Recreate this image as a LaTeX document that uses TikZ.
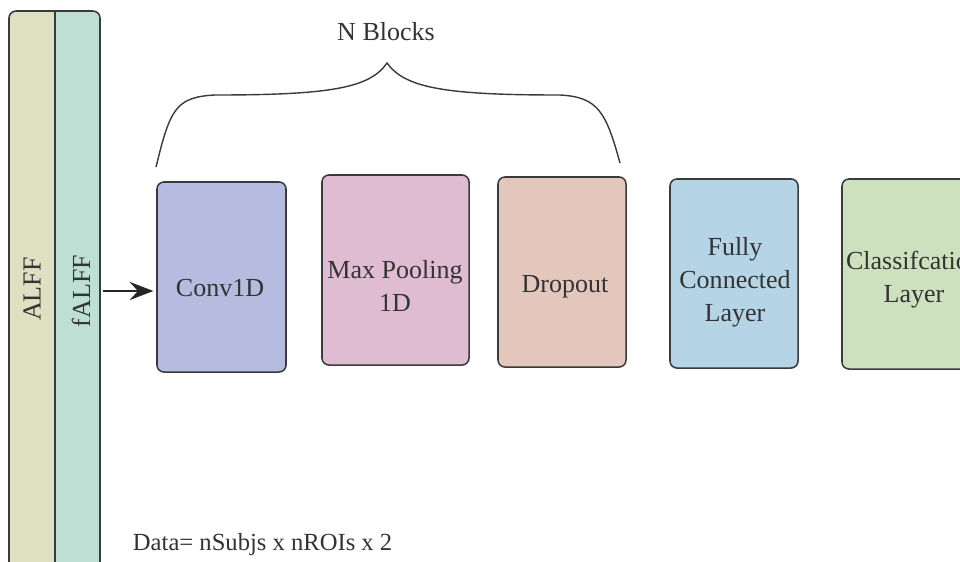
\documentclass[tikz,border=0pt]{standalone}
\usepackage{fontspec}
\setmainfont{Liberation Serif}
\usetikzlibrary{arrows.meta}

\definecolor{alffcol}{HTML}{DFE0C2}
\definecolor{falffcol}{HTML}{BDDFD4}
\definecolor{convcol}{HTML}{B5BCDF}
\definecolor{poolcol}{HTML}{DFBCD2}
\definecolor{dropcol}{HTML}{E3C7BC}
\definecolor{fccol}{HTML}{B5D4E5}
\definecolor{clscol}{HTML}{CDE1BF}
\definecolor{edgecol}{HTML}{3A3A3A}

\tikzset{
  layerbox/.style={draw=edgecol, line width=1.1pt, rounded corners=5pt,
    minimum height=4.75cm},
  layertext/.style={align=center, text=black!80,
    font=\fontsize{18.5}{23.5}\selectfont},
  bandtext/.style={rotate=90, text=black!80, font=\fontsize{18.5}{21}\selectfont},
}

\begin{document}
\begin{tikzpicture}[x=0.025cm, y=-0.025cm]
    \useasboundingbox (0,0) rectangle (960,561);
    \clip (0,0) rectangle (960,561);

    % Input data columns
    \begin{scope}
      \clip[rounded corners=5pt] (9,11) rectangle (100,600);
      \fill[alffcol] (9,11) rectangle (55,600);
      \fill[falffcol] (55,11) rectangle (100,600);
    \end{scope}
    \draw[edgecol, line width=1.1pt, rounded corners=5pt] (9,11) rectangle (100,600);
    \draw[edgecol, line width=0.8pt] (55,11) -- (55,600);
    \node[bandtext] (alff) at (32,289) {ALFF};
    \node[bandtext] (falff) at (81,291) {fALFF};
    \coordinate (inx) at (100,291);

    % Layers
    \node[layerbox, fill=convcol, minimum width=3.225cm] (conv) at (221.5,277) {};
    \node[layerbox, fill=poolcol, minimum width=3.675cm] (pool) at (395.5,270) {};
    \node[layerbox, fill=dropcol, minimum width=3.2cm] (drop) at (562,272) {};
    \node[layerbox, fill=fccol, minimum width=3.2cm, minimum height=4.725cm] (fc) at (734,273.5) {};
    \node[layerbox, fill=clscol, minimum width=3.2cm] (cls) at (906,274) {};

    % Layer labels
    \node[layertext] (conv-t) at (220,288) {Conv1D};
    \node[layertext] (pool-t) at (395,286) {Max Pooling\\1D};
    \node[layertext] (drop-t) at (565,287) {Dropout};
    \node[layertext] (fc-t) at (735,282) {Fully\\Connected\\Layer};
    \node[layertext] (cls-t) at (914,280) {Classifcation\\Layer};

    % Input arrow
    \draw[-{Stealth[length=17pt, width=13pt, inset=6pt]}, line width=0.8pt, black!85]
      ([xshift=2pt]inx) -- ([xshift=-2pt]conv.west |- inx);

    % Brace over the repeated blocks
    \coordinate (bl) at (156,167);
    \coordinate (btip) at (387,63);
    \coordinate (br) at (620,163);
    \draw[edgecol, line width=1pt]
      (bl) .. controls (170,110) and (175,97) .. (215,95)
      .. controls (330,95) and (370,88) .. (btip)
      .. controls (405,88) and (445,95) .. (560,95)
      .. controls (598,97) and (606,112) .. (br);
    \node[text=black!80, font=\fontsize{18.5}{21}\selectfont] (nblocks) at (386,32) {N Blocks};

    % Data shape
    \node[text=black!80, font=\fontsize{17.5}{21}\selectfont, anchor=west] (shape) at (128,545) {Data= nSubjs x nROIs x 2};
\end{tikzpicture}
\end{document}
